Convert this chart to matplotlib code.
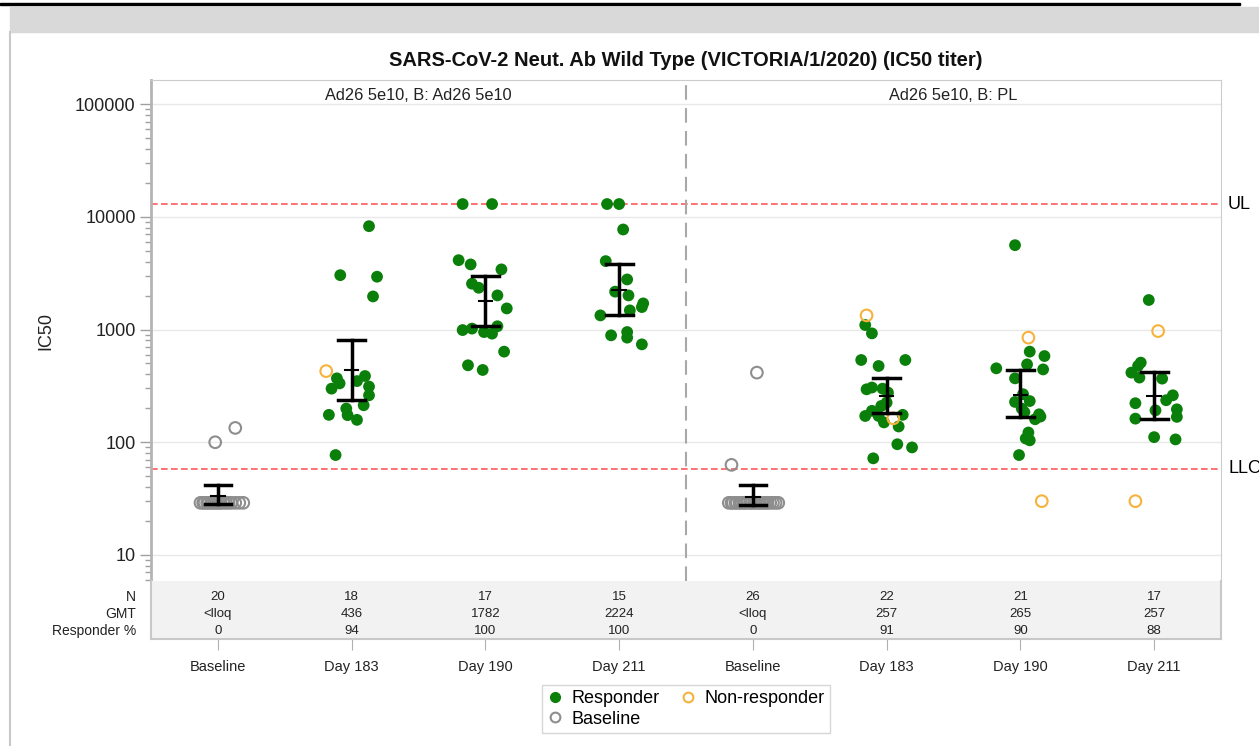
import numpy as np
import matplotlib
matplotlib.use('Agg')
import matplotlib.pyplot as plt
from matplotlib.lines import Line2D
from matplotlib.patches import Rectangle
from matplotlib.ticker import LogLocator, NullFormatter, FixedLocator

plt.rcParams['font.family'] = ['Liberation Sans', 'DejaVu Sans']

cats = ['Baseline', 'Day 183', 'Day 190', 'Day 211']
panels = ['Ad26 5e10, B: Ad26 5e10', 'Ad26 5e10, B: PL']

# table under the plot
tbl_n = ['20', '18', '17', '15', '26', '22', '21', '17']
tbl_gmt = ['<lloq', '436', '1782', '2224', '<lloq', '257', '265', '257']
tbl_resp = ['0', '94', '100', '100', '0', '91', '90', '88']

# geometric mean and 95% CI per group
gmt = [33.5, 436, 1782, 2224, 33, 257, 265, 257]
ci_lo = [28.2, 239, 1075, 1336, 28, 183, 166, 162]
ci_hi = [41.9, 813, 2980, 3785, 41.9, 369, 435, 420]

UL = 12900
LLOQ = 58

# individual titers, x-jitter (category units) and status (R responder, N non-responder, B baseline)
g1_val = [100, 134, 29, 29, 29, 29, 29, 29, 29, 29, 29, 29, 29, 29, 29, 29, 29, 29, 29, 29]
g1_off = [-0.02, 0.13, -0.13, -0.11, -0.10, -0.08, -0.07, -0.05, -0.04, -0.02, -0.01,
          0.01, 0.02, 0.04, 0.06, 0.08, 0.10, 0.13, 0.16, 0.19]
g1_st = 'BBBBBBBBBBBBBBBBBBBB'

g2_val = [8270, 3040, 2945, 1968, 428, 369, 333, 299, 387, 349, 312, 261, 213, 199, 175, 174, 158, 77]
g2_off = [0.13, -0.085, 0.19, 0.16, -0.19, -0.11, -0.09, -0.15, 0.10, 0.04, 0.13, 0.13,
          0.09, -0.04, -0.17, -0.03, 0.04, -0.12]
g2_st = 'RRRRNRRRRRRRRRRRRR'

g3_val = [13000, 13000, 4130, 3785, 3420, 2553, 2350, 2010, 1540, 990, 1020, 950, 920, 1070, 637, 482, 438]
g3_off = [-0.17, 0.05, -0.20, -0.11, 0.12, -0.10, -0.05, 0.09, 0.16, -0.17, -0.10, -0.01,
          0.05, 0.09, 0.14, -0.13, -0.02]
g3_st = 'RRRRRRRRRRRRRRRRR'

g4_val = [13000, 13000, 7730, 4050, 2785, 2170, 2010, 1707, 1584, 1480, 1336, 889, 951, 848, 739]
g4_off = [-0.09, 0.0, 0.03, -0.10, 0.06, -0.03, 0.07, 0.18, 0.17, 0.08, -0.14, -0.06, 0.06, 0.06, 0.17]
g4_st = 'RRRRRRRRRRRRRRR'

g5_val = [415, 63, 29, 29, 29, 29, 29, 29, 29, 29, 29, 29, 29, 29, 29, 29, 29, 29,
          29, 29, 29, 29, 29, 29, 29, 29]
g5_off = [0.03, -0.16, -0.18, -0.16, -0.15, -0.13, -0.12, -0.10, -0.09, -0.07, -0.06, -0.04,
          -0.02, -0.01, 0.01, 0.02, 0.04, 0.05, 0.07, 0.08, 0.10, 0.11, 0.13, 0.15, 0.17, 0.19]
g5_st = 'BBBBBBBBBBBBBBBBBBBBBBBBBB'

g6_val = [1336, 1097, 925, 537, 537, 475, 295, 306, 299, 276, 225, 210, 190, 171, 163,
          175, 171, 150, 138, 96, 90, 72]
g6_off = [-0.15, -0.16, -0.11, -0.19, 0.14, -0.06, -0.15, -0.11, -0.03, 0.01, 0.0, -0.04,
          -0.11, -0.16, 0.05, 0.12, -0.06, -0.02, 0.09, 0.08, 0.19, -0.10]
g6_st = 'NRRRRRRRRRRRRRNRRRRRRR'

g7_val = [5610, 848, 637, 582, 491, 453, 443, 369, 267, 228, 232, 199, 177, 160, 169,
          122, 108, 104, 77, 185, 30]
g7_off = [-0.04, 0.06, 0.07, 0.18, 0.05, -0.18, 0.17, -0.04, 0.02, -0.04, 0.07, 0.01,
          0.14, 0.11, 0.15, 0.06, 0.04, 0.07, -0.01, 0.03, 0.16]
g7_st = 'RNRRRRRRRRRRRRRRRRRRN'

g8_val = [1830, 970, 509, 476, 415, 375, 367, 261, 236, 222, 196, 192, 168, 162, 111, 106, 30]
g8_off = [-0.04, 0.03, -0.10, -0.12, -0.17, -0.11, 0.06, 0.14, 0.09, -0.14, 0.17, 0.01,
          0.17, -0.14, 0.0, 0.16, -0.14]
g8_st = 'RNRRRRRRRRRRRRRRN'

groups = [(g1_val, g1_off, g1_st), (g2_val, g2_off, g2_st), (g3_val, g3_off, g3_st),
          (g4_val, g4_off, g4_st), (g5_val, g5_off, g5_st), (g6_val, g6_off, g6_st),
          (g7_val, g7_off, g7_st), (g8_val, g8_off, g8_st)]

green = '#0a7f0a'
orange = '#f7b23b'
grey = '#8e8e8e'

W, H = 1259, 746
fig = plt.figure(figsize=(W / 100, H / 100), dpi=100)

# page decoration (report frame)
fig.patches.append(Rectangle((0, 1 - 5 / H), 1240 / W, 2.5 / H, transform=fig.transFigure,
                             color='black', zorder=0))
fig.patches.append(Rectangle((10 / W, 1 - 32 / H), 1, 25 / H, transform=fig.transFigure,
                             color='#d9d9d9', zorder=0))
fig.lines.append(Line2D([10 / W, 10 / W], [0, 1 - 32 / H], transform=fig.transFigure,
                        color='#c8c8c8', lw=1.5))

left, right, top, bot, tbot = 151, 1221, 80, 581, 639
ax = fig.add_axes([left / W, 1 - bot / H, (right - left) / W, (bot - top) / H])
axt = fig.add_axes([left / W, 1 - tbot / H, (right - left) / W, (tbot - bot) / H])

ax.set_yscale('log')
ax.set_ylim(5.87, 164000)
ax.set_xlim(0, 8)
ax.set_xticks([])
ax.yaxis.set_major_locator(FixedLocator([10, 100, 1000, 10000, 100000]))
ax.set_yticklabels(['10', '100', '1000', '10000', '100000'])
ax.yaxis.set_minor_locator(LogLocator(base=10, subs=np.arange(2, 10)))
ax.yaxis.set_minor_formatter(NullFormatter())
ax.tick_params(axis='y', which='major', length=8, width=1, color='#a0a0a0', labelsize=13,
               labelcolor='#222222', pad=3)
ax.tick_params(axis='y', which='minor', length=4, width=1, color='#a0a0a0')
ax.grid(axis='y', which='major', color='#e8e8e8', lw=1)
ax.set_axisbelow(True)
for s in ['top', 'right']:
    ax.spines[s].set_color('#cccccc')
ax.spines['left'].set_color('#b4b4b4')
ax.spines['left'].set_linewidth(2)
ax.spines['bottom'].set_visible(False)

ax.set_ylabel('IC50', fontsize=13, color='#222222')
ax.yaxis.set_label_coords((54 - left) / (right - left), 0.5)

# reference lines
ax.axhline(UL, color='#ff5a5a', lw=1.2, ls=(0, (4, 2)))
ax.axhline(LLOQ, color='#ff5a5a', lw=1.2, ls=(0, (4, 2)))
lx = (1228 - left) / (right - left)
ax.text(lx, UL, 'UL', transform=ax.get_yaxis_transform(), fontsize=13, va='center',
        ha='left', clip_on=False)
ax.text(lx, LLOQ, 'LLOQ', transform=ax.get_yaxis_transform(), fontsize=13, va='center',
        ha='left', clip_on=False)

# panel divider
ax.axvline(4, color='#a8a8a8', lw=1.5, ls=(0, (7, 4)))

for k, p in enumerate(panels):
    ax.text(2 + 4 * k, 0.969, p, transform=ax.get_xaxis_transform(), ha='center',
            va='center', fontsize=11.8, color='#222222')

for i, (vals, offs, st) in enumerate(groups):
    x = i + 0.5 + np.array(offs)
    v = np.array(vals, dtype=float)
    s = np.array(list(st))
    m = s == 'B'
    ax.scatter(x[m], v[m], s=70, facecolors='none', edgecolors=grey, linewidths=1.5, zorder=3)
    m = s == 'R'
    ax.scatter(x[m], v[m], s=72, color=green, edgecolors='none', zorder=3)
    m = s == 'N'
    ax.scatter(x[m], v[m], s=70, facecolors='none', edgecolors=orange, linewidths=1.5, zorder=3)

    c = i + 0.5
    ax.plot([c, c], [ci_lo[i], ci_hi[i]], color='black', lw=2.5, zorder=4)
    ax.plot([c - 0.1, c + 0.1], [ci_lo[i], ci_lo[i]], color='black', lw=2.5, zorder=4)
    ax.plot([c - 0.1, c + 0.1], [ci_hi[i], ci_hi[i]], color='black', lw=2.5, zorder=4)
    ax.plot([c - 0.05, c + 0.05], [gmt[i], gmt[i]], color='black', lw=1.5, zorder=4)

# summary table
axt.set_facecolor('#f2f2f2')
axt.set_xlim(0, 8)
axt.set_ylim(0, 1)
axt.set_yticks([])
centers = np.arange(8) + 0.5
axt.set_xticks(centers)
axt.set_xticklabels(cats + cats)
axt.tick_params(axis='x', length=8, color='#b0b0b0', labelsize=10.5, labelcolor='#222222', pad=7)
axt.spines['top'].set_visible(False)
for s in ['left', 'right', 'bottom']:
    axt.spines[s].set_color('#c8c8c8')
    axt.spines[s].set_linewidth(1.5)

rows = [('N', tbl_n), ('GMT', tbl_gmt), ('Responder %', tbl_resp)]
row_y = [1 - 16 / 58, 1 - 33 / 58, 1 - 50 / 58]
for (lab, vals), yy in zip(rows, row_y):
    axt.text(-15 / (right - left), yy, lab, transform=axt.transAxes, ha='right', va='center',
             fontsize=10, color='#222222')
    for c, t in zip(centers, vals):
        axt.text(c, yy, t, ha='center', va='center', fontsize=9.5, color='#222222')

fig.text(686 / W, 1 - 60 / H, 'SARS-CoV-2 Neut. Ab Wild Type (VICTORIA/1/2020) (IC50 titer)',
         ha='center', va='center', fontsize=14.5, fontweight='bold', color='#111111')

handles = [Line2D([], [], ls='none', marker='o', ms=7, color=green, mec=green),
           Line2D([], [], ls='none', marker='o', ms=7, mfc='none', mec=grey, mew=1.5),
           Line2D([], [], ls='none', marker='o', ms=7, mfc='none', mec=orange, mew=1.5)]
labels = ['Responder', 'Baseline', 'Non-responder']
leg = fig.legend(handles, labels, ncol=2, loc='center', bbox_to_anchor=(686 / W, 1 - 709 / H),
                 fontsize=13, frameon=True, fancybox=False, edgecolor='#cccccc',
                 handlelength=0.8, handletextpad=0.5, columnspacing=1.2, borderpad=0.3,
                 labelspacing=0.2)
leg.get_frame().set_linewidth(1)

fig.savefig('out.png', dpi=100)
